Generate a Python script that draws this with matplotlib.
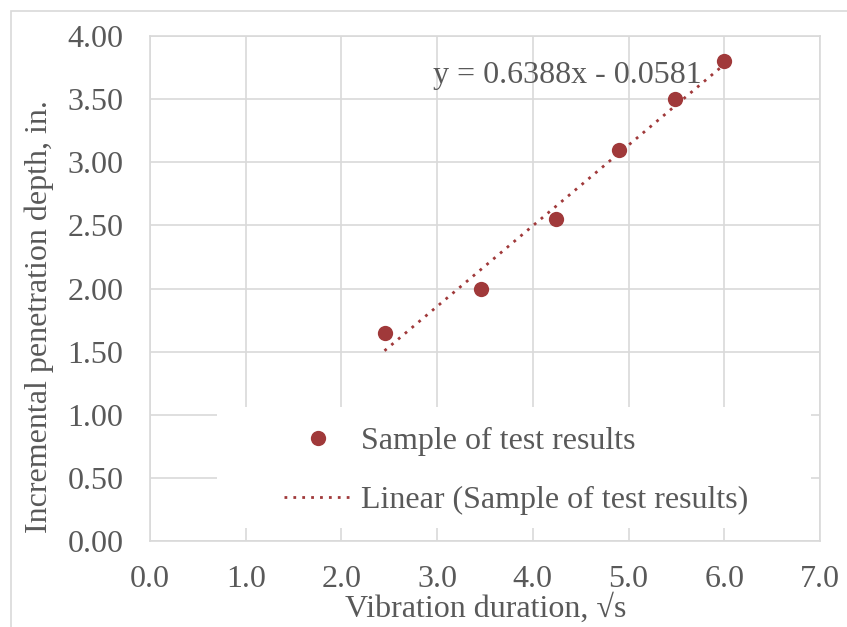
import matplotlib
matplotlib.use("Agg")
import matplotlib.pyplot as plt
from matplotlib.patches import Rectangle
from matplotlib.lines import Line2D
import numpy as np

plt.rcParams['font.family'] = ['Liberation Serif', 'DejaVu Serif']

x_vals = [2.45, 3.46, 4.24, 4.90, 5.48, 6.00]
y_vals = [1.65, 2.00, 2.55, 3.10, 3.50, 3.80]
slope = 0.6388
intercept = -0.0581
x_ticks = [0, 1, 2, 3, 4, 5, 6, 7]
y_ticks = [0, 0.5, 1.0, 1.5, 2.0, 2.5, 3.0, 3.5, 4.0]
equation = "y = 0.6388x - 0.0581"
series_label = "Sample of test results"
trend_label = "Linear (Sample of test results)"
x_label = "Vibration duration, \u221As"
y_label = "Incremental penetration depth, in."

W, H = 847, 627
fig = plt.figure(figsize=(W / 100, H / 100), dpi=100)
ax = fig.add_axes([150 / W, 1 - 541 / H, 670 / W, 505 / H])

red = '#A0393A'
grid = '#D9D9D9'
txt = '#595959'
fs = 23

# outer border
fig.patches.append(Rectangle((11 / W, -0.1), 2.0, (H - 11) / H + 0.1,
                             transform=fig.transFigure, fill=False,
                             edgecolor=grid, linewidth=1.2))

ax.set_xlim(0, 7)
ax.set_ylim(0, 4)
ax.set_xticks(x_ticks)
ax.set_yticks(y_ticks)
ax.set_xticklabels([f"{v:.1f}" for v in x_ticks])
ax.set_yticklabels([f"{v:.2f}" for v in y_ticks])
ax.tick_params(length=0, labelsize=fs, labelcolor=txt)
ax.tick_params(axis='x', pad=17)
ax.tick_params(axis='y', pad=19)
ax.grid(True, color=grid, linewidth=1.2, zorder=0)
ax.set_axisbelow(True)
for s in ax.spines.values():
    s.set_color(grid)
    s.set_linewidth(1.2)

xt = np.array([min(x_vals), max(x_vals)])
ax.plot(xt, slope * xt + intercept, linestyle=(0, (1, 2.2)), color=red,
        linewidth=2.0, zorder=3)
ax.plot(x_vals, y_vals, 'o', color=red, markersize=11, zorder=4,
        markeredgewidth=0)

ax.text(2.96, 3.69, equation, fontsize=fs, color=txt, va='center', ha='left',
        zorder=5)

fig.text(486 / W, 1 - 617 / H, x_label, fontsize=fs, color=txt,
         ha='center', va='baseline')
fig.text(47 / W, 1 - 317 / H, y_label, fontsize=fs, color=txt,
         ha='center', va='baseline', rotation=90, rotation_mode='anchor')

# legend box
x0 = (217 - 150) / 670
x1 = (811 - 150) / 670
y0 = (541 - 528) / 505
y1 = (541 - 407) / 505
ax.add_patch(Rectangle((x0, y0), x1 - x0, y1 - y0, transform=ax.transAxes,
                       facecolor='white', edgecolor='none', zorder=2))
handles = [Line2D([], [], marker='o', linestyle='none', color=red,
                  markersize=11, markeredgewidth=0),
           Line2D([], [], linestyle=(0, (1, 2.2)), color=red, linewidth=2.0)]
leg = ax.legend(handles, [series_label, trend_label], loc='upper left',
                bbox_to_anchor=(284 / W, 1 - 427 / H),
                bbox_transform=fig.transFigure,
                frameon=False, fontsize=fs, handlelength=2.1,
                handletextpad=0.3, labelspacing=0.93, borderpad=0,
                borderaxespad=0)
for t in leg.get_texts():
    t.set_color(txt)
leg.set_zorder(6)

fig.savefig("out.png", dpi=100)
